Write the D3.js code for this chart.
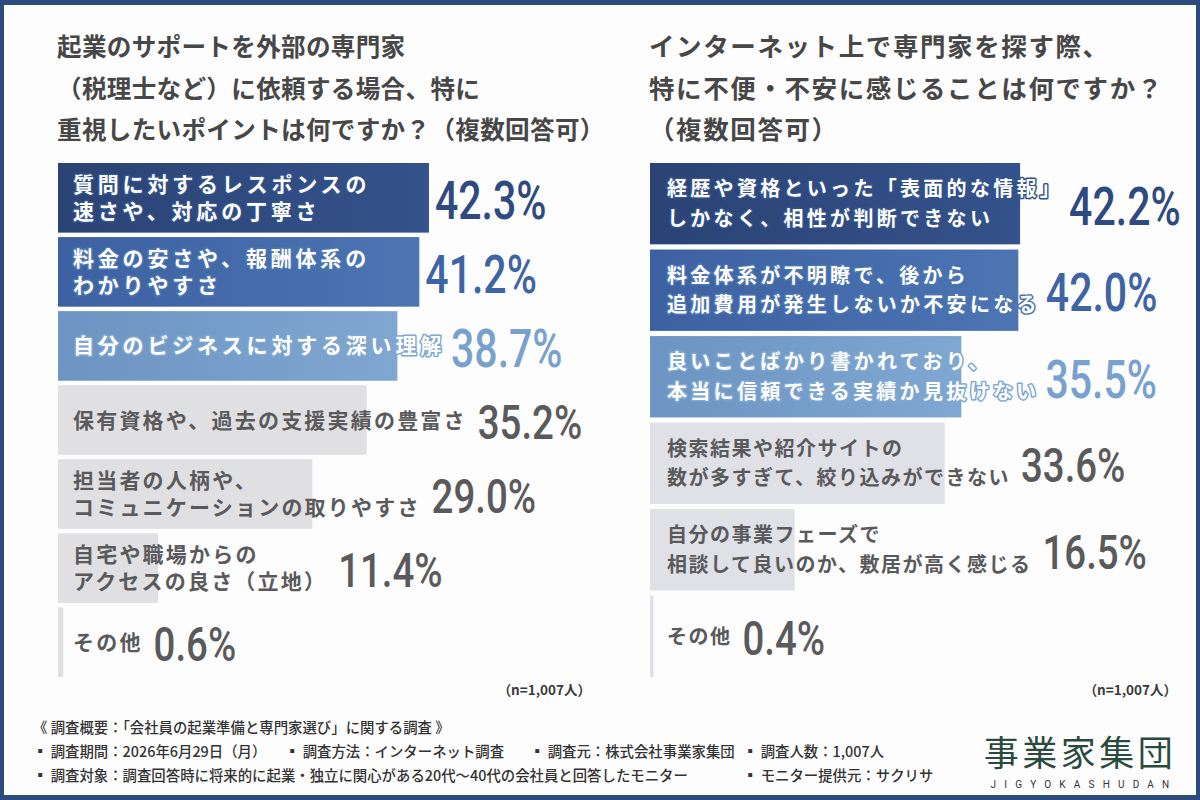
<!DOCTYPE html>
<html>
<head>
<meta charset="utf-8">
<script src="https://cdn.jsdelivr.net/npm/d3@7"></script>
<style>
  body { margin: 0; background: #fff; }
  svg { display: block; }
  text { font-family: "Noto Sans CJK JP", "Noto Sans", sans-serif; }
</style>
</head>
<body>
<svg id="chart" width="1200" height="800"></svg>
<script>
// left question
const leftTitle = ["起業のサポートを外部の専門家", "（税理士など）に依頼する場合、特に", "重視したいポイントは何ですか？（複数回答可）"]
const leftLabels = [
  ["質問に対するレスポンスの", "速さや、対応の丁寧さ"],
  ["料金の安さや、報酬体系の", "わかりやすさ"],
  ["自分のビジネスに対する深い理解"],
  ["保有資格や、過去の支援実績の豊富さ"],
  ["担当者の人柄や、", "コミュニケーションの取りやすさ"],
  ["自宅や職場からの", "アクセスの良さ（立地）"],
  ["その他"]
]
const leftValues = [42.3, 41.2, 38.7, 35.2, 29.0, 11.4, 0.6]

// right question
const rightTitle = ["インターネット上で専門家を探す際、", "特に不便・不安に感じることは何ですか？", "（複数回答可）"]
const rightLabels = [
  ["経歴や資格といった「表面的な情報」", "しかなく、相性が判断できない"],
  ["料金体系が不明瞭で、後から", "追加費用が発生しないか不安になる"],
  ["良いことばかり書かれており、", "本当に信頼できる実績か見抜けない"],
  ["検索結果や紹介サイトの", "数が多すぎて、絞り込みができない"],
  ["自分の事業フェーズで", "相談して良いのか、敷居が高く感じる"],
  ["その他"]
]
const rightValues = [42.2, 42.0, 35.5, 33.6, 16.5, 0.4]

const sampleNote = "（n=1,007人）"

const footerLines = [
  [{ x: 33, t: "《 調査概要：「会社員の起業準備と専門家選び」に関する調査 》" }],
  [{ x: 33, t: "▪ 調査期間：2026年6月29日（月）" }, { x: 285, t: "▪ 調査方法：インターネット調査" },
   { x: 530, t: "▪ 調査元：株式会社事業家集団" }, { x: 743, t: "▪ 調査人数：1,007人" }],
  [{ x: 33, t: "▪ 調査対象：調査回答時に将来的に起業・独立に関心がある20代～40代の会社員と回答したモニター" },
   { x: 743, t: "▪ モニター提供元：サクリサ" }]
]

// rank colours: top three blue, the rest grey
const barFills = [["#2b4374", "#34528b"], ["#3d60a1", "#4c75b2"], ["#6d94c2", "#7fa7d1"]]
const valueColors = ["#2f4a80", "#3f64a4", "#79a1cd"]
const greyText = "#5a5a5c"

const svg = d3.select("#chart")

svg.append("rect").attr("width", 1200).attr("height", 800).attr("fill", "#2e4b7d")
svg.append("rect").attr("x", 4).attr("y", 5).attr("width", 1192).attr("height", 790).attr("fill", "#fdfdfd")

const defs = svg.append("defs")
barFills.forEach((c, i) => {
  const g = defs.append("linearGradient").attr("id", "grad" + i)
  g.append("stop").attr("offset", "0%").attr("stop-color", c[0])
  g.append("stop").attr("offset", "100%").attr("stop-color", c[1])
})

const pct = d3.format(".1f")
// one px-per-percent scale shared by both panels
const pxPerPct = 8.77

function drawPanel(opts) {
  const g = svg.append("g")
  const n = opts.values.length

  // title
  g.selectAll("text.title")
    .data(opts.title)
    .join("text")
    .attr("x", opts.x0 - 1)
    .attr("y", (d, i) => 56 + i * 41.5)
    .attr("font-size", opts.titleSize)
    .attr("font-weight", 700)
    .attr("letter-spacing", opts.titleSpacing)
    .attr("fill", "#474747")
    .text(d => d)

  const x = d3.scaleLinear().domain([0, 1]).range([opts.x0, opts.x0 + pxPerPct])
  const y = d3.scaleBand().domain(d3.range(n)).range([163, 677]).paddingInner(0.06)

  const rows = g.selectAll("g.row")
    .data(opts.values)
    .join("g")
    .attr("class", "row")

  rows.append("rect")
    .attr("x", x(0))
    .attr("y", (d, i) => y(i))
    .attr("width", d => x(d) - x(0))
    .attr("height", y.bandwidth())
    .attr("fill", (d, i) => i < 3 ? `url(#grad${i})` : opts.grey)

  rows.each(function (d, i) {
    const row = d3.select(this)
    const lines = opts.labels[i]
    const cy = y(i) + y.bandwidth() / 2
    const top = cy - (lines.length - 1) * opts.lineGap / 2
    const blue = i < 3

    const label = row.append("text")
      .attr("font-size", opts.labelSize)
      .attr("font-weight", 700)
      .attr("letter-spacing", blue ? opts.spacingBlue : opts.spacingGrey)
      .attr("fill", blue ? "#ffffff" : greyText)
      .attr("stroke", blue ? barFills[i][1] : "none")
      .attr("stroke-width", 3)
      .attr("stroke-linejoin", "round")
      .attr("paint-order", "stroke")

    let widest = 0
    lines.forEach((t, k) => {
      const ts = label.append("tspan")
        .attr("x", opts.x0 + opts.pad)
        .attr("y", top + k * opts.lineGap + opts.labelSize * 0.36)
        .text(t)
      widest = Math.max(widest, ts.node().getComputedTextLength())
    })

    const textEnd = opts.x0 + opts.pad + widest
    const vx = Math.max(textEnd + (blue ? 6 : 11), x(d) + 6)
    row.append("text")
      .attr("transform", `translate(${vx},${cy + (blue ? 21 : 19)}) scale(${blue ? 0.76 : 0.8},1)`)
      .attr("font-size", blue ? 54 : 48)
      .attr("font-weight", 500)
      .attr("fill", blue ? valueColors[i] : greyText)
      .style("font-family", "Roboto, sans-serif")
      .text(pct(d) + "%")
  })

  g.append("text")
    .attr("x", opts.noteX)
    .attr("y", 695)
    .attr("text-anchor", "end")
    .attr("font-size", 13.5)
    .attr("font-weight", 700)
    .attr("fill", "#3a3a3a")
    .text(sampleNote)
}

drawPanel({ x0: 58, title: leftTitle, titleSize: 24.6, titleSpacing: 0.3, labels: leftLabels, values: leftValues,
  labelSize: 21, spacingBlue: 3.8, spacingGrey: 2.2, lineGap: 27, pad: 15, noteX: 591, grey: "#e0e0e2" })
drawPanel({ x0: 650, title: rightTitle, titleSize: 25.5, titleSpacing: 1.6, labels: rightLabels, values: rightValues,
  labelSize: 20, spacingBlue: 3.3, spacingGrey: 1.5, lineGap: 29.5, pad: 17, noteX: 1177, grey: "#dfe1e7" })

// survey footer
const foot = svg.append("g")
footerLines.forEach((line, i) => {
  foot.selectAll(null)
    .data(line)
    .join("text")
    .attr("x", d => d.x)
    .attr("y", 733 + i * 24)
    .attr("font-size", 14.4)
    .attr("font-weight", 500)
    .attr("fill", "#333")
    .text(d => d.t)
})

// company mark
svg.append("text")
  .attr("x", 1080)
  .attr("y", 766)
  .attr("text-anchor", "middle")
  .attr("font-size", 35)
  .attr("font-weight", 400)
  .attr("letter-spacing", 3.5)
  .attr("fill", "#2b4a3e")
  .text("事業家集団")
svg.append("text")
  .attr("x", 1084)
  .attr("y", 788)
  .attr("text-anchor", "middle")
  .style("font-family", "Roboto, sans-serif")
  .attr("font-size", 10)
  .attr("letter-spacing", 8.2)
  .attr("fill", "#333")
  .text("JIGYOKASHUDAN")
</script>
</body>
</html>
